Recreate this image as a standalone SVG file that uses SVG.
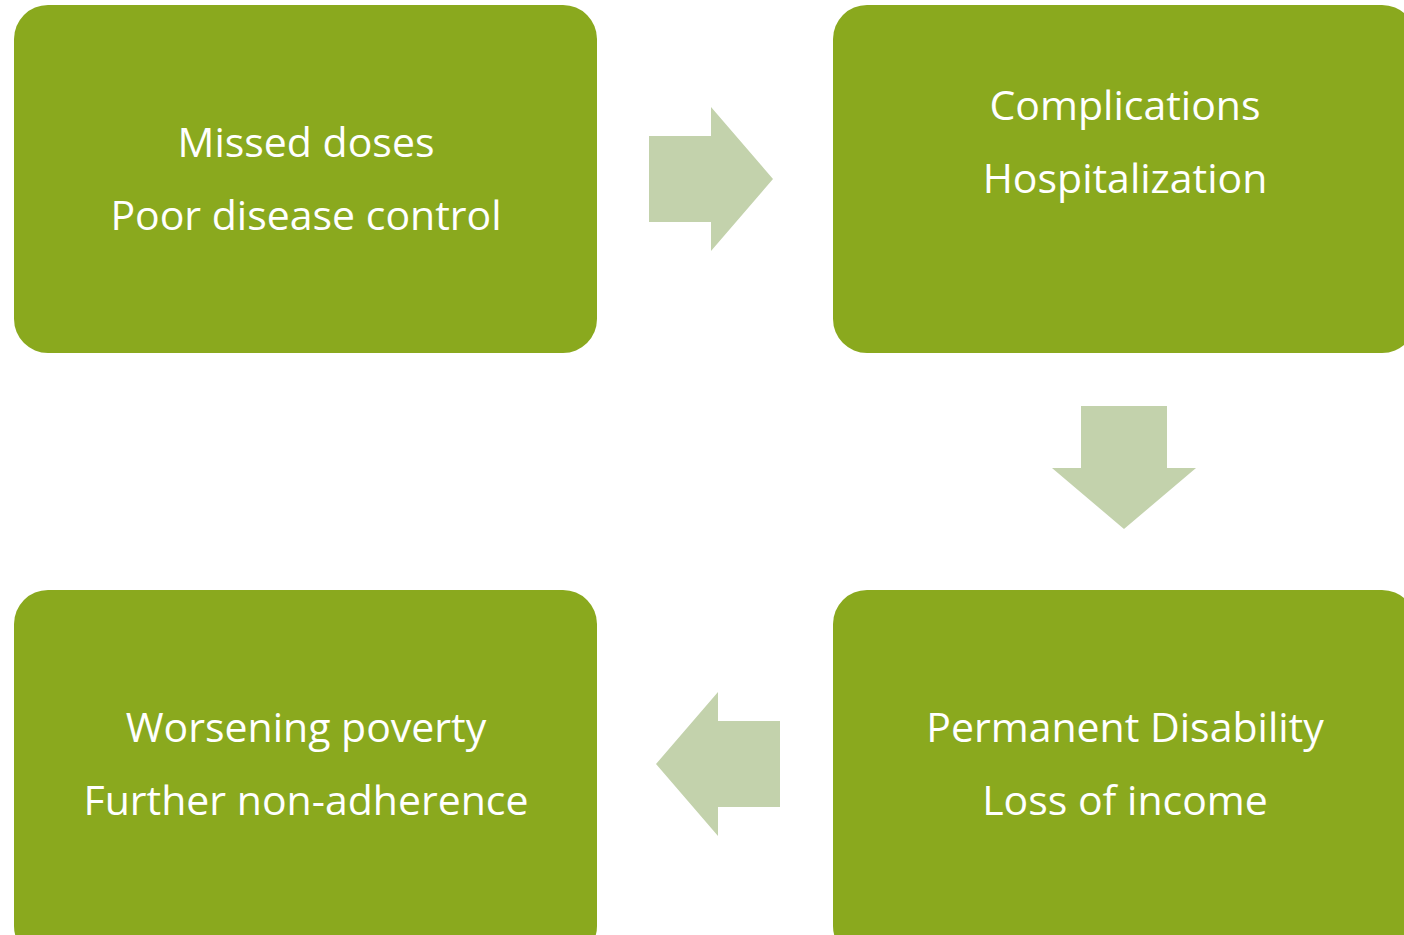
<svg xmlns="http://www.w3.org/2000/svg" width="1404" height="935" viewBox="0 0 1404 935">
<style>
.box{fill:#8AA91E}
.arr{fill:#C3D2AC}
.t{font-family:"Open Sans","Liberation Sans",sans-serif;font-size:41px;fill:#FFFFFF;text-anchor:middle}
</style>
<rect width="1404" height="935" fill="#FFFFFF"/>
<g id="node1"><rect class="box" x="14" y="5" width="583" height="348" rx="34"/>
<text class="t" x="306" y="157">Missed doses</text><text class="t" x="306" y="230">Poor disease control</text></g>
<g id="node2"><rect class="box" x="833" y="5" width="583" height="348" rx="34"/>
<text class="t" x="1125" y="120">Complications</text><text class="t" x="1125" y="193">Hospitalization</text></g>
<g id="node3"><rect class="box" x="833" y="590" width="583" height="370" rx="34"/>
<text class="t" x="1125" y="742">Permanent Disability</text><text class="t" x="1125" y="815">Loss of income</text></g>
<g id="node4"><rect class="box" x="14" y="590" width="583" height="370" rx="34"/>
<text class="t" x="306" y="742">Worsening poverty</text><text class="t" x="306" y="815">Further non-adherence</text></g>
<g id="connectors">
<polygon class="arr" points="649,136 711,136 711,107 773,179 711,251 711,222 649,222"/>
<polygon class="arr" points="1081,406 1167,406 1167,468 1196,468 1124,529 1052,468 1081,468"/>
<polygon class="arr" points="780,721 718,721 718,692 656,764 718,836 718,807 780,807"/>
</g>
</svg>
